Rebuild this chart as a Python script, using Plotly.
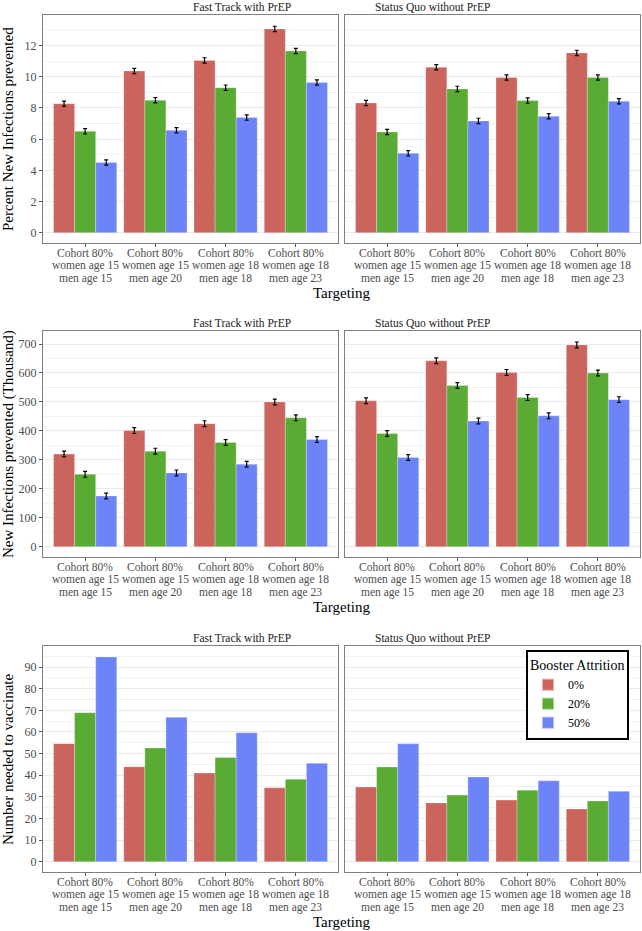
import plotly.graph_objects as go

W, H = 642, 931

targeting = [
    ["Cohort 80%", "women age 15", "men age 15"],
    ["Cohort 80%", "women age 15", "men age 20"],
    ["Cohort 80%", "women age 18", "men age 18"],
    ["Cohort 80%", "women age 18", "men age 23"],
]
attrition = ["0%", "20%", "50%"]
scenarios = ["Fast Track with PrEP", "Status Quo without PrEP"]

# percent of new infections prevented (rows: attrition 0/20/50)
pct_fast = [[8.27, 10.37, 11.05, 13.07], [6.50, 8.50, 9.30, 11.65], [4.50, 6.57, 7.38, 9.63]]
pct_sq = [[8.32, 10.61, 9.95, 11.53], [6.46, 9.22, 8.47, 9.95], [5.09, 7.17, 7.47, 8.43]]
pct_err = 0.17

# new infections prevented (thousand)
num_fast = [[320, 401, 425, 500], [250, 330, 360, 445], [175, 255, 285, 370]]
num_sq = [[504, 642, 602, 697], [391, 557, 515, 600], [308, 434, 452, 508]]
num_err = 10

# number needed to vaccinate
nnv_fast = [[54.6, 43.9, 41.0, 34.2], [68.9, 52.6, 48.2, 38.1], [94.7, 66.8, 59.6, 45.5]]
nnv_sq = [[34.5, 27.2, 28.5, 24.4], [43.8, 30.8, 33.1, 28.1], [54.5, 39.2, 37.4, 32.6]]

colors = ["#CC645E", "#59AB34", "#6C84F7"]
FONT = "Liberation Serif"

rows = [
    dict(data=(pct_fast, pct_sq), err=pct_err, ytitle="Percent New Infections prevented",
         yrange=[-0.66, 13.96], dtick=2, top=15, bot=243),
    dict(data=(num_fast, num_sq), err=num_err, ytitle="New Infections prevented (Thousand)",
         yrange=[-35.5, 745], dtick=100, top=331, bot=557),
    dict(data=(nnv_fast, nnv_sq), err=None, ytitle="Number needed to vaccinate",
         yrange=[-4.75, 99.75], dtick=10, top=646, bot=872),
]
xdom = [(43, 338), (345, 640)]

fig = go.Figure()
annotations = []
layout = {}
n = 0
for r, row in enumerate(rows):
    ydom = [1 - row["bot"] / H, 1 - row["top"] / H]
    for c in range(2):
        n += 1
        sfx = "" if n == 1 else str(n)
        vals = row["data"][c]
        for k, lab in enumerate(attrition):
            tr = go.Bar(
                x=[0, 1, 2, 3], y=vals[k], name=lab,
                marker=dict(color=colors[k], line=dict(width=0.6, color="rgba(255,255,255,0.45)")),
                offsetgroup=lab, legendgroup=lab,
                showlegend=(r == 2 and c == 1),
                xaxis="x" + sfx, yaxis="y" + sfx,
            )
            if row["err"] is not None:
                tr.error_y = dict(type="constant", value=row["err"], color="black",
                                  thickness=1.2, width=2)
            fig.add_trace(tr)
        layout["xaxis" + sfx] = dict(
            domain=[xdom[c][0] / W, xdom[c][1] / W], anchor="y" + sfx,
            range=[-0.6, 3.6], tickvals=[0, 1, 2, 3], showticklabels=False,
            automargin=False,
            ticks="outside", ticklen=3, tickcolor="#555555",
            showgrid=False, zeroline=False,
            showline=True, mirror=True, linecolor="#7F7F7F", linewidth=1,
        )
        layout["yaxis" + sfx] = dict(
            domain=ydom, anchor="x" + sfx, range=row["yrange"],
            dtick=row["dtick"], tick0=0, automargin=False,
            ticks="outside" if c == 0 else "", ticklen=3, tickcolor="#555555",
            showticklabels=(c == 0),
            showgrid=True, gridcolor="#EBEBEB", gridwidth=1, zeroline=False,
            minor=dict(showgrid=True, gridcolor="#F2F2F2", gridwidth=1, dtick=row["dtick"] / 2),
            showline=True, mirror=True, linecolor="#7F7F7F", linewidth=1,
            tickfont=dict(family=FONT, size=12, color="#4D4D4D"),
        )
        # category tick labels, one line each (tight ggplot-like spacing)
        for i, lines in enumerate(targeting):
            for j, line in enumerate(lines):
                annotations.append(dict(
                    text=line, x=i, xref="x" + sfx,
                    y=1 - (row["bot"] + 10 + j * 12.6) / H, yref="paper",
                    showarrow=False, yanchor="middle",
                    font=dict(family=FONT, size=11.5, color="#4D4D4D"),
                ))
        # facet strip title
        annotations.append(dict(
            text=scenarios[c], x=(xdom[c][0] + xdom[c][1]) / 2 / W,
            y=1 - (row["top"] - 8) / H, xref="paper", yref="paper",
            showarrow=False, yanchor="middle",
            font=dict(family=FONT, size=11.5, color="#1A1A1A"),
        ))
    # y axis title
    annotations.append(dict(
        text=row["ytitle"], textangle=-90, x=8 / W,
        y=1 - (row["top"] + row["bot"]) / 2 / H, xref="paper", yref="paper",
        showarrow=False, xanchor="center", yanchor="middle",
        font=dict(family=FONT, size=15, color="black"),
    ))
    # x axis title
    annotations.append(dict(
        text="Targeting", x=(43 + 640) / 2 / W, y=1 - (row["bot"] + 50) / H,
        xref="paper", yref="paper", showarrow=False, yanchor="middle",
        font=dict(family=FONT, size=15, color="black"),
    ))

fig.update_layout(
    width=W, height=H,
    margin=dict(l=0, r=0, t=0, b=0, autoexpand=False),
    paper_bgcolor="white", plot_bgcolor="white",
    barmode="group", bargap=0.1, bargroupgap=0,
    annotations=annotations,
    legend=dict(
        title=dict(text="Booster Attrition", font=dict(family=FONT, size=14, color="black")),
        font=dict(family=FONT, size=12, color="black"),
        x=526 / W, y=1 - 650 / H, xanchor="left", yanchor="top",
        bgcolor="white", bordercolor="black", borderwidth=2,
        tracegroupgap=0, itemsizing="constant", itemwidth=30,
    ),
    showlegend=True,
    **layout,
)

fig.write_html("out.html", config={"displayModeBar": False},
               post_script="document.body.style.margin='0';")
